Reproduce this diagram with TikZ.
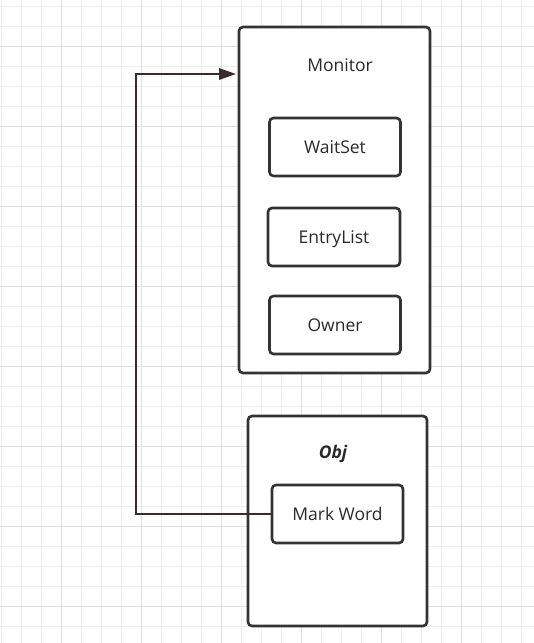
\documentclass[tikz,border=0pt]{standalone}
\usepackage{fontspec}
\setmainfont{Open Sans}
\usetikzlibrary{arrows.meta}
\definecolor{gridminor}{HTML}{EEEEEE}
\definecolor{gridmajor}{HTML}{E0E0E0}
\definecolor{boxline}{HTML}{333333}
\definecolor{connline}{HTML}{3A2C2C}
\definecolor{txt}{HTML}{2A2A2A}
\tikzset{
  outerbox/.style={draw=boxline, line width=2.6pt, rounded corners=4pt, fill=white, inner sep=0pt},
  innerbox/.style={draw=boxline, line width=2.6pt, rounded corners=4pt, fill=white, inner sep=0pt,
    minimum width=131pt, minimum height=58pt, text height=12.5pt, text depth=0pt,
    font=\fontsize{17.5}{19}\selectfont, text=txt},
  label/.style={inner sep=0pt, text height=12.5pt, text depth=0pt, font=\fontsize{17.5}{19}\selectfont, text=txt},
  conn/.style={draw=connline, line width=2.7pt, -{Triangle[length=17pt,width=11pt]}, shorten >=1.5pt}
}
\begin{document}
\begin{tikzpicture}[x=1pt,y=-1pt]
\useasboundingbox (0,0) rectangle (534,643);
\fill[white] (0,0) rectangle (534,643);
% grid
\foreach \gx in {1.7,21.7,...,534} {\draw[gridminor, line width=1pt] (\gx,0) -- (\gx,643);}
\foreach \gy in {6.7,26.7,...,643} {\draw[gridminor, line width=1pt] (0,\gy) -- (534,\gy);}
\foreach \gx in {61.7,141.7,...,534} {\draw[gridmajor, line width=1pt] (\gx,0) -- (\gx,643);}
\foreach \gy in {46.7,126.7,...,643} {\draw[gridmajor, line width=1pt] (0,\gy) -- (534,\gy);}

% Monitor
\node[outerbox, minimum width=191pt, minimum height=346pt] (mon) at (334.5,200) {};
\node[label] (monlbl) at (340,65) {Monitor};
\node[innerbox] (ws) at (335,147) {WaitSet};
\node[innerbox, minimum width=132pt] (el) at (334,237) {EntryList};
\node[innerbox] (ow) at (335,325) {Owner};

% Obj
\node[outerbox, minimum width=179pt, minimum height=210pt] (obj) at (337.5,521) {};
\node[label, font=\fontsize{17.5}{19}\selectfont\bfseries\itshape] (objlbl) at (333,452) {Obj};
\node[innerbox] (mw) at (337.5,514) {Mark Word};

% connector
\coordinate (bend) at (136,74);
\draw[conn] (mw.west) -| (bend) -- (bend -| mon.west);
\end{tikzpicture}
\end{document}
